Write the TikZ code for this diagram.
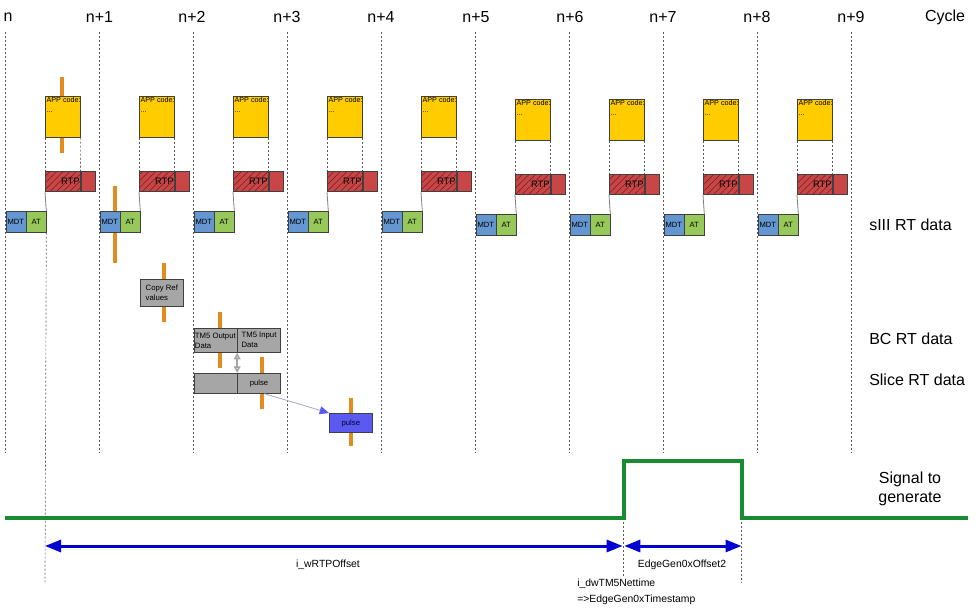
\documentclass[tikz,border=0pt]{standalone}
\usepackage{fontspec}
\setmainfont{Liberation Sans}
\usetikzlibrary{arrows.meta,patterns.meta}

\definecolor{mdtblue}{RGB}{100,150,210}
\definecolor{atgreen}{RGB}{150,200,90}
\definecolor{rtpred}{RGB}{200,70,70}
\definecolor{rtpdark}{RGB}{115,30,30}
\definecolor{appyellow}{RGB}{255,204,0}
\definecolor{boxgray}{RGB}{166,166,166}
\definecolor{markorange}{RGB}{225,140,30}
\definecolor{pulseblue}{RGB}{90,90,240}
\definecolor{siggreen}{RGB}{25,140,50}
\definecolor{spanblue}{RGB}{0,0,210}

\begin{document}
\begin{tikzpicture}[x=0.75pt,y=0.75pt,yscale=-1,xscale=1,
  cell/.style={draw=black!75,line width=0.5pt,anchor=north west,inner sep=0pt,minimum height=15.75pt,font=\fontsize{5.7}{6.5}\selectfont},
  mdtbox/.style={cell,fill=mdtblue,minimum width=15pt},
  atbox/.style={cell,fill=atgreen,minimum width=14.6pt},
  rtpbox/.style={cell,minimum height=15pt,text width=25.25pt,inner xsep=0.5pt,align=right,preaction={fill=rtpred},pattern={Lines[angle=45,distance=3.5pt,line width=0.4pt]},pattern color=rtpdark,font=\fontsize{7}{8}\selectfont},
  rtpend/.style={cell,fill=rtpred,minimum height=15pt,minimum width=10.9pt},
  appbox/.style={cell,fill=appyellow,minimum width=26.25pt,minimum height=30.75pt},
  apptext/.style={anchor=north west,inner sep=1pt,align=left,font=\fontsize{5.4}{7.5}\selectfont},
  graybox/.style={cell,fill=boxgray,minimum width=32.25pt,align=left,font=\fontsize{5.8}{7.5}\selectfont},
  guide/.style={draw=black!65,line width=0.5pt,dash pattern=on 1.5pt off 1.5pt},
  stepline/.style={draw=black!50,line width=0.6pt},
  marker/.style={draw=markorange,line width=3pt},
  cyclelbl/.style={font=\fontsize{12}{14}\selectfont,inner sep=0pt},
  rowlbl/.style={font=\fontsize{12}{14}\selectfont,anchor=west,inner sep=0pt},
  smalllbl/.style={font=\fontsize{7.8}{12}\selectfont,inner sep=0pt},
  span/.style={draw=spanblue,line width=2.25pt,{Triangle[length=12pt,width=9pt]}-{Triangle[length=12pt,width=9pt]}},
  signal/.style={draw=siggreen,line width=3pt}]
\useasboundingbox (0,0) rectangle (976,611);

% Cycle labels
\node[cyclelbl] (lbl0) at (8,17) {n};
\node[cyclelbl] (lbl1) at (99.5,17) {n+1};
\node[cyclelbl] (lbl2) at (192,17) {n+2};
\node[cyclelbl] (lbl3) at (287,17) {n+3};
\node[cyclelbl] (lbl4) at (381,17) {n+4};
\node[cyclelbl] (lbl5) at (476,17) {n+5};
\node[cyclelbl] (lbl6) at (570,17) {n+6};
\node[cyclelbl] (lbl7) at (663,17) {n+7};
\node[cyclelbl] (lbl8) at (757,17) {n+8};
\node[cyclelbl] (lbl9) at (851,17) {n+9};
\node[cyclelbl] (lblcycle) at (945,17) {Cycle};

% Cycle lines
\draw[guide] (5.5,32) -- (5.5,453);
\draw[guide] (99.5,32) -- (99.5,453);
\draw[guide] (193.5,32) -- (193.5,453);
\draw[guide] (287.5,32) -- (287.5,453);
\draw[guide] (381.5,32) -- (381.5,453);
\draw[guide] (475.5,32) -- (475.5,453);
\draw[guide] (569.5,32) -- (569.5,453);
\draw[guide] (663.5,32) -- (663.5,453);
\draw[guide] (757.5,32) -- (757.5,453);
\draw[guide] (851.5,32) -- (851.5,453);

% Orange markers (behind the boxes)
\draw[marker] (62,77) -- (62,153);
\draw[marker] (115,186) -- (115,263);
\draw[marker] (164,263) -- (164,322);
\draw[marker] (220,312) -- (220,368);
\draw[marker] (262,357) -- (262,409);
\draw[marker] (351,398) -- (351,446);

% Cycle n
\node[mdtbox] (mdt0) at (5.5,211) {MDT};
\node[atbox] (at0) at (mdt0.north east) {AT};
\node[rtpbox] (rtp0) at (45,171) {RTP};
\node[rtpend] (rtpe0) at (rtp0.north east) {};
\node[appbox] (app0) at (45,96) {};
\node[apptext] (appt0) at (app0.north west) {APP code:\\...};
\draw[stepline] (at0.north east) -- (rtp0.south west);
\draw[guide] (app0.south west) -- (rtp0.north west);
\draw[guide] (app0.south east) -- (rtp0.north east);

% Cycle n+1
\node[mdtbox] (mdt1) at (99.5,211) {MDT};
\node[atbox] (at1) at (mdt1.north east) {AT};
\node[rtpbox] (rtp1) at (139,171) {RTP};
\node[rtpend] (rtpe1) at (rtp1.north east) {};
\node[appbox] (app1) at (139,96) {};
\node[apptext] (appt1) at (app1.north west) {APP code:\\...};
\draw[stepline] (at1.north east) -- (rtp1.south west);
\draw[guide] (app1.south west) -- (rtp1.north west);
\draw[guide] (app1.south east) -- (rtp1.north east);

% Cycle n+2
\node[mdtbox] (mdt2) at (193.5,211) {MDT};
\node[atbox] (at2) at (mdt2.north east) {AT};
\node[rtpbox] (rtp2) at (233,171) {RTP};
\node[rtpend] (rtpe2) at (rtp2.north east) {};
\node[appbox] (app2) at (233,96) {};
\node[apptext] (appt2) at (app2.north west) {APP code:\\...};
\draw[stepline] (at2.north east) -- (rtp2.south west);
\draw[guide] (app2.south west) -- (rtp2.north west);
\draw[guide] (app2.south east) -- (rtp2.north east);

% Cycle n+3
\node[mdtbox] (mdt3) at (287.5,211) {MDT};
\node[atbox] (at3) at (mdt3.north east) {AT};
\node[rtpbox] (rtp3) at (327,171) {RTP};
\node[rtpend] (rtpe3) at (rtp3.north east) {};
\node[appbox] (app3) at (327,96) {};
\node[apptext] (appt3) at (app3.north west) {APP code:\\...};
\draw[stepline] (at3.north east) -- (rtp3.south west);
\draw[guide] (app3.south west) -- (rtp3.north west);
\draw[guide] (app3.south east) -- (rtp3.north east);

% Cycle n+4
\node[mdtbox] (mdt4) at (381.5,211) {MDT};
\node[atbox] (at4) at (mdt4.north east) {AT};
\node[rtpbox] (rtp4) at (421,171) {RTP};
\node[rtpend] (rtpe4) at (rtp4.north east) {};
\node[appbox] (app4) at (421,96) {};
\node[apptext] (appt4) at (app4.north west) {APP code:\\...};
\draw[stepline] (at4.north east) -- (rtp4.south west);
\draw[guide] (app4.south west) -- (rtp4.north west);
\draw[guide] (app4.south east) -- (rtp4.north east);

% Cycle n+5
\node[mdtbox] (mdt5) at (475.5,214) {MDT};
\node[atbox] (at5) at (mdt5.north east) {AT};
\node[rtpbox] (rtp5) at (515,174) {RTP};
\node[rtpend] (rtpe5) at (rtp5.north east) {};
\node[appbox] (app5) at (515,99) {};
\node[apptext] (appt5) at (app5.north west) {APP code:\\...};
\draw[stepline] (at5.north east) -- (rtp5.south west);
\draw[guide] (app5.south west) -- (rtp5.north west);
\draw[guide] (app5.south east) -- (rtp5.north east);

% Cycle n+6
\node[mdtbox] (mdt6) at (569.5,214) {MDT};
\node[atbox] (at6) at (mdt6.north east) {AT};
\node[rtpbox] (rtp6) at (609,174) {RTP};
\node[rtpend] (rtpe6) at (rtp6.north east) {};
\node[appbox] (app6) at (609,99) {};
\node[apptext] (appt6) at (app6.north west) {APP code:\\...};
\draw[stepline] (at6.north east) -- (rtp6.south west);
\draw[guide] (app6.south west) -- (rtp6.north west);
\draw[guide] (app6.south east) -- (rtp6.north east);

% Cycle n+7
\node[mdtbox] (mdt7) at (663.5,214) {MDT};
\node[atbox] (at7) at (mdt7.north east) {AT};
\node[rtpbox] (rtp7) at (703,174) {RTP};
\node[rtpend] (rtpe7) at (rtp7.north east) {};
\node[appbox] (app7) at (703,99) {};
\node[apptext] (appt7) at (app7.north west) {APP code:\\...};
\draw[stepline] (at7.north east) -- (rtp7.south west);
\draw[guide] (app7.south west) -- (rtp7.north west);
\draw[guide] (app7.south east) -- (rtp7.north east);

% Cycle n+8
\node[mdtbox] (mdt8) at (757.5,214) {MDT};
\node[atbox] (at8) at (mdt8.north east) {AT};
\node[rtpbox] (rtp8) at (797,174) {RTP};
\node[rtpend] (rtpe8) at (rtp8.north east) {};
\node[appbox] (app8) at (797,99) {};
\node[apptext] (appt8) at (app8.north west) {APP code:\\...};
\draw[stepline] (at8.north east) -- (rtp8.south west);
\draw[guide] (app8.south west) -- (rtp8.north west);
\draw[guide] (app8.south east) -- (rtp8.north east);

% BC / Slice data
\node[graybox,minimum height=20.25pt] (copyref) at (140,279) {Copy Ref\\values};
\node[graybox,minimum height=18pt] (tm5out) at (193.5,328) {TM5 Output\\Data};
\node[graybox,minimum height=18pt] (tm5in) at (tm5out.north east) {TM5 Input\\Data};
\node[graybox,minimum height=15pt] (slicea) at (193.5,373) {};
\node[graybox,minimum height=15pt] (slpulse) at (slicea.north east) {pulse};
\node[cell,fill=pulseblue,minimum width=32.25pt,minimum height=14.6pt,text=black!80!blue,font=\fontsize{5.8}{7}\selectfont] (blpulse) at (329,413) {pulse};
\draw[draw=black!35,line width=1.2pt,{Triangle[length=5pt,width=5pt,open]}-{Triangle[length=5pt,width=5pt,open]}] (tm5out.south east) -- (slicea.north east);
\draw[draw={rgb,255:red,165;green,165;blue,205},line width=0.6pt,-{Triangle[length=7pt,width=6pt,color=pulseblue]}] ([xshift=4pt]slpulse.south) -- (blpulse.north west);

% Row labels
\node[rowlbl] (rowsiii) at (869,225) {sIII RT data};
\node[rowlbl] (rowbc) at (869,339) {BC RT data};
\node[rowlbl] (rowslice) at (869,380) {Slice RT data};
\node[cyclelbl,align=center] (rowsig) at (910,489) {Signal to\\generate};

% Signal and offsets
\coordinate (offs) at (45,546);
\coordinate (rise) at (623.5,546);
\coordinate (fall) at (741.5,546);
\draw[guide] (at0.south east) -- (45,582);
\draw[guide] (623.5,518) -- (623.5,576);
\draw[guide] (741.5,518) -- (741.5,583);
\draw[signal] (5,518) -- (623.5,518) -- (623.5,461) -- (741.5,461) -- (741.5,518) -- (968,518);
\draw[span] (offs) -- ([xshift=-0.6pt]rise);
\draw[span] ([xshift=0.6pt]rise) -- (fall);
\node[smalllbl] (offlbl) at (328,565) {i\_wRTPOffset};
\node[smalllbl] (edgelbl) at (682,565) {EdgeGen0xOffset2};
\node[smalllbl,anchor=north west,align=left] (netlbl) at (577,579) {i\_dwTM5Nettime\\=>EdgeGen0xTimestamp};
\end{tikzpicture}
\end{document}
